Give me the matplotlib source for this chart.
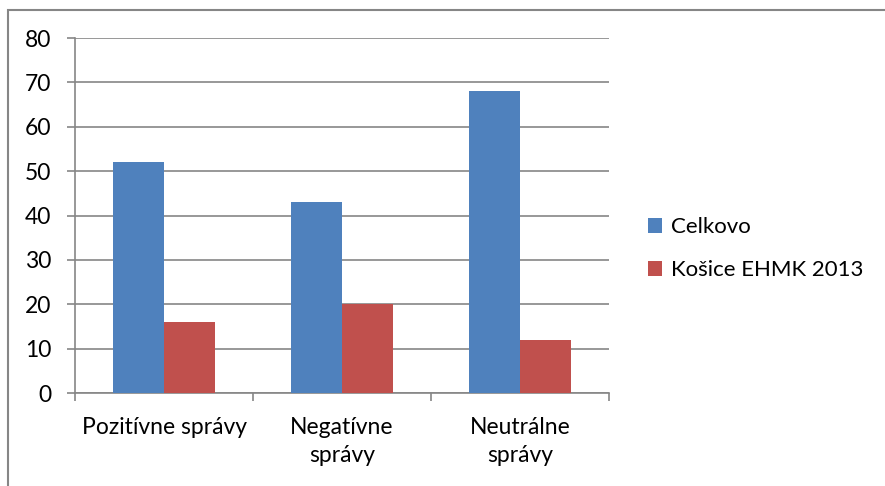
import matplotlib.pyplot as plt
from matplotlib.patches import Rectangle
import numpy as np

plt.rcParams['font.family'] = ['Lato', 'DejaVu Sans']

categories = ["Pozitívne správy", "Negatívne\nsprávy", "Neutrálne\nsprávy"]
celkovo = [52, 43, 68]
kosice = [16, 20, 12]
series_names = ["Celkovo", "Košice EHMK 2013"]

grid_col = "#868686"
fs = 16.5

fig = plt.figure(figsize=(8.85, 4.86), dpi=100)
ax = fig.add_axes([75 / 885, 93 / 486, 534 / 885, 355 / 486])

x = np.arange(len(categories))
w = 1 / 3.5
ax.bar(x - w / 2, celkovo, width=w, color="#4F81BD", label=series_names[0], zorder=3)
ax.bar(x + w / 2, kosice, width=w, color="#C0504D", label=series_names[1], zorder=3)

ax.set_xlim(-0.5, len(categories) - 0.5)
ax.set_ylim(0, 80)
ax.set_yticks(range(0, 81, 10))
ax.yaxis.grid(True, color=grid_col, linewidth=1.2, zorder=0)

ax.set_xticks(x)
ax.set_xticklabels(categories, linespacing=1.45)
ax.set_xticks(np.arange(-0.5, len(categories)), minor=True)
ax.tick_params(axis='x', which='major', length=0, pad=17, labelsize=fs, colors='black')
ax.tick_params(axis='x', which='minor', length=6, width=1.2, color=grid_col, direction='out')
ax.tick_params(axis='y', length=6, width=1.2, color=grid_col, pad=11, labelsize=fs)

for s in ['top', 'right']:
    ax.spines[s].set_visible(False)
for s in ['left', 'bottom']:
    ax.spines[s].set_color(grid_col)
    ax.spines[s].set_linewidth(1.2)

fig.legend(loc='center left', bbox_to_anchor=(628 / 885, 0.488), frameon=False,
           fontsize=16, handlelength=0.65, handleheight=0.65, handletextpad=0.4,
           labelspacing=1.05)

# chart border (Excel chart area)
fig.add_artist(Rectangle((7.5 / 885, -0.1), 1.2, (476 / 486) + 0.1,
                         transform=fig.transFigure, fill=False,
                         edgecolor=grid_col, linewidth=1.5))

fig.savefig("out.png", dpi=100)
